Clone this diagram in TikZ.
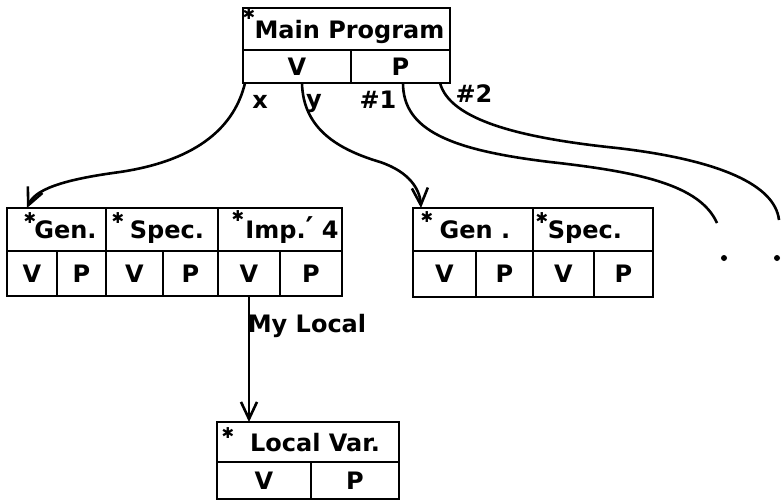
\documentclass[tikz,border=0pt]{standalone}
\usepackage{fontspec}
\setmainfont{DejaVu Sans}
\usetikzlibrary{arrows.meta}
\newcommand\mycell[6]{\node[cell, minimum width={#4-#2}, minimum height={#5-#3}] (#1) at (#2,#3) {#6};}
\newcommand\hast{\symbol{"2731}}
\begin{document}
\begin{tikzpicture}[x=1pt,y=-1pt,
  every node/.style={font=\fontsize{24}{24}\bfseries\selectfont},
  cell/.style={draw, line width=2.6pt, rectangle, inner sep=0pt, outer sep=0pt, anchor=north west},
  txt/.style={anchor=base, inner sep=0pt},
  ast/.style={anchor=center, inner sep=0pt, font=\fontsize{15}{15}\selectfont},
  conn/.style={line width=2.6pt},
  tip/.style={-{Straight Barb[length=17pt,width=16pt,line width=2.6pt]}},
  dotmark/.style={circle, fill, inner sep=0pt, minimum size=6pt}
]
\useasboundingbox (0,0) rectangle (782,501);

% Main program
\mycell{main}{243}{8}{450}{50}{}
\mycell{mv}{243}{50}{351}{83}{V}
\mycell{mp}{351}{50}{450}{83}{P}
\node[txt] (tmain) at ([shift={(3,9)}]main.center) {Main Program};
\node[ast] (amain) at ([shift={(6,6)}]main.north west) {\hast};

% left group
\mycell{ga}{7}{208}{106}{251}{}
\mycell{sa}{106}{208}{218}{251}{}
\mycell{ia}{218}{208}{342}{251}{}
\mycell{gav}{7}{251}{57}{296}{V}
\mycell{gap}{57}{251}{106}{296}{P}
\mycell{sav}{106}{251}{163}{296}{V}
\mycell{sap}{163}{251}{218}{296}{P}
\mycell{iav}{218}{251}{280}{296}{V}
\mycell{iap}{280}{251}{342}{296}{P}
\node[txt] (tga) at ([shift={(9,9)}]ga.center) {Gen.};
\node[txt] (tsa) at ([shift={(5,9)}]sa.center) {Spec.};
\node[txt] (tia) at ([shift={(12,9)}]ia.center) {Imp.{\fontsize{30}{30}\selectfont\symbol{"2032}} 4};
\node[ast] (aga) at ([shift={(23,10)}]ga.north west) {\hast};
\node[ast] (asa) at ([shift={(12,10)}]sa.north west) {\hast};
\node[ast] (aia) at ([shift={(20,8)}]ia.north west) {\hast};

% middle group
\mycell{gb}{413}{208}{533}{251}{}
\mycell{sb}{533}{208}{653}{251}{}
\mycell{gbv}{413}{251}{476}{297}{V}
\mycell{gbp}{476}{251}{533}{297}{P}
\mycell{sbv}{533}{251}{594}{297}{V}
\mycell{sbp}{594}{251}{653}{297}{P}
\node[txt] (tgb) at ([shift={(2,9)}]gb.center) {Gen .};
\node[txt] (tsb) at ([shift={(-8,9)}]sb.center) {Spec.};
\node[ast] (agb) at ([shift={(14,9)}]gb.north west) {\hast};
\node[ast] (asb) at ([shift={(9,10)}]sb.north west) {\hast};

% local var
\mycell{lt}{217}{422}{399}{462}{}
\mycell{lv}{217}{462}{311}{499}{V}
\mycell{lp}{311}{462}{399}{499}{P}
\node[txt] (tlt) at ([shift={(7,9)}]lt.center) {Local Var.};
\node[ast] (alt) at ([shift={(11,11)}]lt.north west) {\hast};

% free ends and dots
\coordinate (e1) at (717,223);
\coordinate (e2) at (779,220);
\node[dotmark] (d1) at (724,258) {};
\node[dotmark] (d2) at (777,258) {};

% connectors
\draw[conn, tip] ([xshift=2]mv.south west) .. controls (235,125) and (200,160) .. (120,172)
   .. controls (60,180) and (35,190) .. ([xshift=20]ga.north west);
\draw[conn, tip] ([xshift=59]mv.south west) .. controls (303,130) and (340,150) .. (380,162)
   .. controls (410,172) and (420,190) .. ([xshift=8]gb.north west);
\draw[conn] ([xshift=52]mp.south west) .. controls (403,130) and (450,150) .. (550,162)
   .. controls (640,172) and (700,185) .. (e1);
\draw[conn] ([xshift=-10]mp.south east) .. controls (450,120) and (520,138) .. (617,148)
   .. controls (720,160) and (775,185) .. (e2);
\draw[conn, tip] (iav.south) -- (iav.south |- lt.north);

% labels
\node[txt] (lx) at (260,108) {x};
\node[txt] (ly) at (314,107) {y};
\node[txt] (l1) at (378,108) {\#1};
\node[txt] (l2) at (474,102) {\#2};
\node[txt] (lml) at (307,332) {My Local};
\end{tikzpicture}
\end{document}
